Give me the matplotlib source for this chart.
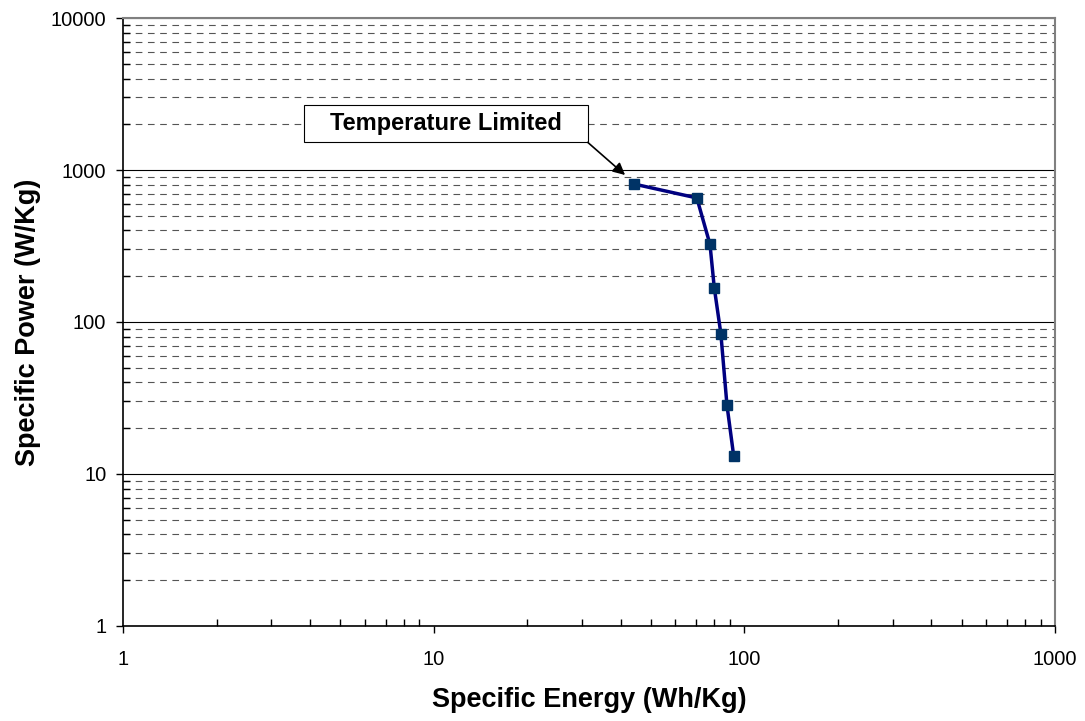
import matplotlib
matplotlib.use("Agg")
import matplotlib.pyplot as plt
from matplotlib.patches import Rectangle
from matplotlib.ticker import LogLocator, NullFormatter, FuncFormatter

plt.rcParams['font.family'] = ['Liberation Sans', 'DejaVu Sans']

specific_energy = [44.1, 70.3, 77.5, 80.0, 84.0, 87.9, 92.4]
specific_power = [809, 655, 324, 168, 83.8, 28.3, 13.1]
x_label = "Specific Energy (Wh/Kg)"
y_label = "Specific Power (W/Kg)"
annotation_text = "Temperature Limited"
annotation_point = (41.3, 927)

fig = plt.figure(figsize=(10.85, 7.21), dpi=100)
ax = fig.add_axes([0.1134, 0.1318, 0.859, 0.8432])
ax.set_xscale('log')
ax.set_yscale('log')
ax.set_xlim(1, 1000)
ax.set_ylim(1, 10000)

ax.plot(specific_energy, specific_power, color='#000080', lw=2.5, zorder=3,
        marker='s', markersize=7, markerfacecolor='#003366', markeredgecolor='#003366')

fmt = FuncFormatter(lambda v, p: f"{v:g}")
ax.xaxis.set_major_locator(LogLocator(base=10, numticks=10))
ax.yaxis.set_major_locator(LogLocator(base=10, numticks=10))
ax.xaxis.set_major_formatter(fmt)
ax.yaxis.set_major_formatter(fmt)
ax.xaxis.set_minor_locator(LogLocator(base=10, subs=range(2, 10), numticks=20))
ax.yaxis.set_minor_locator(LogLocator(base=10, subs=range(2, 10), numticks=20))
ax.xaxis.set_minor_formatter(NullFormatter())
ax.yaxis.set_minor_formatter(NullFormatter())

ax.grid(True, which='major', axis='y', color='black', lw=0.8, ls='-')
ax.grid(True, which='minor', axis='y', color='#555555', lw=0.8, ls=(0, (6, 5)))
ax.set_axisbelow(True)

ax.tick_params(which='major', direction='out', length=5, width=1, labelsize=14.5, pad=7)
ax.tick_params(which='minor', direction='in', length=5, width=1)
ax.tick_params(axis='x', which='major', pad=12)

for s in ['top', 'right']:
    ax.spines[s].set_color('#808080')
    ax.spines[s].set_linewidth(1.5)
for s in ['left', 'bottom']:
    ax.spines[s].set_color('black')
    ax.spines[s].set_linewidth(1.2)

ax.set_xlabel(x_label, fontsize=19.5, fontweight='bold', labelpad=13)
ax.set_ylabel(y_label, fontsize=19.5, fontweight='bold', labelpad=7)

# annotation box
bx0, bx1, by0, by1 = 0.194, 0.4986, 0.7955, 0.857
ax.add_patch(Rectangle((bx0, by0), bx1 - bx0, by1 - by0, transform=ax.transAxes,
                       facecolor='white', edgecolor='black', lw=0.8, zorder=4))
ax.text((bx0 + bx1) / 2, (by0 + by1) / 2, annotation_text, transform=ax.transAxes,
        ha='center', va='center', fontsize=17, fontweight='bold', zorder=5)
ax.annotate('', xy=annotation_point, xycoords='data', xytext=(bx1, by0),
            textcoords='axes fraction',
            arrowprops=dict(arrowstyle='-|>', color='black', lw=1.2, mutation_scale=18,
                            shrinkA=0, shrinkB=0), zorder=5)

fig.savefig('out.png', dpi=100)
